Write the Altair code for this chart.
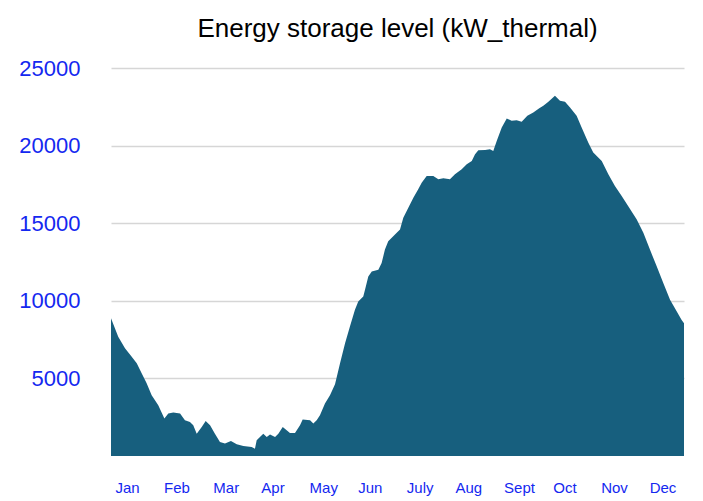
import json

import altair as alt
import pandas as pd

# day of year / stored energy (kW_thermal)
DAYS = [
    0, 4.6, 8.9, 13.2, 16.4, 19.6, 22.7, 25.9, 30.1, 34.0,
    36.5, 39.7, 44.0, 47.1, 50.3, 52.4, 54.6, 57.8, 60.3, 63.1,
    66.2, 69.4, 72.6, 76.4, 80.1, 84.3, 89.6, 91.7, 92.8, 97.0,
    99.2, 101.3, 104.5, 106.6, 109.4, 111.9, 114.0, 117.2, 120.4, 122.1,
    126.8, 128.9, 131.0, 133.1, 136.3, 139.5, 142.7, 145.9, 149.1, 152.2,
    155.4, 157.5, 160.7, 161.8, 163.9, 166.1, 170.3, 172.4, 174.5, 176.6,
    180.9, 184.1, 186.2, 189.4, 192.6, 195.7, 197.9, 201.1, 205.3, 208.5,
    211.7, 215.9, 219.1, 223.4, 226.6, 229.8, 231.9, 234.0, 238.3, 241.4,
    243.5, 245.7, 248.9, 252.1, 255.2, 258.4, 261.6, 265.2, 269.0, 272.8,
    275.4, 278.6, 282.8, 286.0, 289.2, 292.4, 296.6, 299.8, 304.0, 307.2,
    312.6, 316.8, 321.0, 325.3, 329.5, 334.9, 339.1, 343.3, 347.6, 351.8,
    356.1, 360.4, 363.5, 365,
]
STORAGE = [
    8880, 7690, 6940, 6400, 5970, 5320, 4680, 3920, 3270, 2410,
    2740, 2800, 2740, 2300, 2190, 1980, 1440, 1870, 2260, 1980,
    1440, 900, 800, 960, 750, 640, 580, 470, 1010, 1440,
    1220, 1380, 1220, 1440, 1870, 1660, 1480, 1480, 1980, 2350,
    2300, 2090, 2300, 2630, 3380, 3920, 4630, 5970, 7260, 8340,
    9420, 9950, 10280, 10710, 11570, 11890, 12000, 12440, 13300, 13840,
    14270, 14590, 15350, 16000, 16640, 17180, 17610, 18040, 18040, 17830,
    17890, 17830, 18150, 18470, 18800, 19010, 19440, 19700, 19720, 19770,
    19660, 20300, 21170, 21750, 21600, 21640, 21530, 21920, 22140, 22400,
    22570, 22830, 23210, 22890, 22830, 22460, 21920, 21170, 20200, 19550,
    19010, 18150, 17390, 16750, 16100, 15240, 14380, 13300, 12220, 11140,
    10060, 9310, 8770, 8560,
]

MONTHS = ["Jan", "Feb", "Mar", "Apr", "May", "Jun",
          "July", "Aug", "Sept", "Oct", "Nov", "Dec"]
MONTH_POS = [10.2, 41.7, 73.1, 102.9, 135.2, 164.9,
             196.6, 227.6, 259.9, 288.9, 320.4, 351.3]
Y_TICKS = [5000, 10000, 15000, 20000, 25000]

FONT = "Liberation Sans"
BLUE = "#1428f0"

df = pd.DataFrame({"day": DAYS, "storage": STORAGE})

month_label = f"{json.dumps(MONTHS)}[indexof({json.dumps(MONTH_POS)}, datum.value)]"

chart = alt.Chart(df).mark_area(
    color="#175f7e",
    interpolate="linear",
).encode(
    x=alt.X(
        "day:Q",
        scale=alt.Scale(domain=[0, 365], nice=False, zero=False),
        axis=alt.Axis(
            values=MONTH_POS,
            labelExpr=month_label,
            title=None,
            grid=False,
            ticks=False,
            domain=False,
            labelColor=BLUE,
            labelFont=FONT,
            labelFontSize=15,
            labelPadding=36,
            labelBaseline="alphabetic",
        ),
    ),
    y=alt.Y(
        "storage:Q",
        scale=alt.Scale(domain=[0, 25000], nice=False),
        axis=alt.Axis(
            values=Y_TICKS,
            format="d",
            title=None,
            ticks=False,
            domain=False,
            gridColor="#d6d6d6",
            gridWidth=1.5,
            labelColor=BLUE,
            labelFont=FONT,
            labelFontSize=22,
            labelPadding=31,
        ),
    ),
).properties(
    width=573,
    height=388,
    title=alt.TitleParams(
        "Energy storage level (kW_thermal)",
        font=FONT,
        fontSize=26,
        fontWeight="normal",
        color="black",
        anchor="middle",
        baseline="alphabetic",
        offset=28,
        dy=34,
    ),
    autosize="none",
    padding={"left": 103, "top": 60, "right": 10, "bottom": 41},
).configure_view(
    strokeWidth=0
)

chart.save("out.html", embed_options={"renderer": "svg", "actions": False})
